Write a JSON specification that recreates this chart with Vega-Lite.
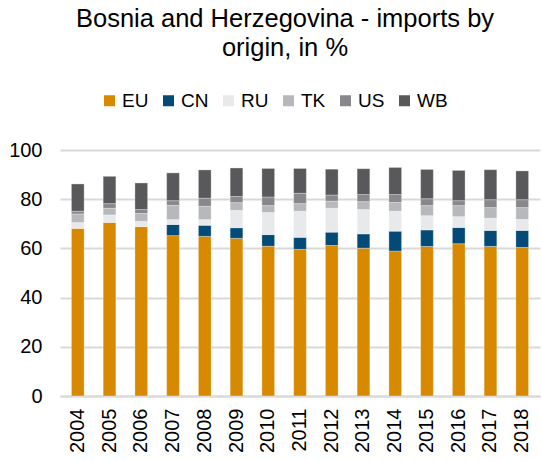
{
  "$schema": "https://vega.github.io/schema/vega-lite/v6.json",
  "autosize": {"type": "none"},
  "width": 480,
  "height": 246,
  "padding": {"left": 60, "top": 150, "right": 2, "bottom": 65},
  "background": "white",
  "config": {
    "font": "Liberation Sans",
    "view": {"stroke": null}
  },
  "title": {
    "text": ["Bosnia and Herzegovina - imports by", "origin, in %"],
    "fontSize": 25.5,
    "fontWeight": "normal",
    "color": "#000000",
    "anchor": "middle",
    "dx": -15,
    "offset": 30,
    "lineHeight": 29,
    "font": "Liberation Sans"
  },
  "data": {
    "values": [
      {"year": "2004", "origin": "EU", "value": 68.2}, {"year": "2004", "origin": "CN", "value": 0}, {"year": "2004", "origin": "RU", "value": 2.3}, {"year": "2004", "origin": "TK", "value": 3.5}, {"year": "2004", "origin": "US", "value": 1.1}, {"year": "2004", "origin": "WB", "value": 11.1},
      {"year": "2005", "origin": "EU", "value": 70.6}, {"year": "2005", "origin": "CN", "value": 0}, {"year": "2005", "origin": "RU", "value": 3.0}, {"year": "2005", "origin": "TK", "value": 2.7}, {"year": "2005", "origin": "US", "value": 1.9}, {"year": "2005", "origin": "WB", "value": 11.1},
      {"year": "2006", "origin": "EU", "value": 68.9}, {"year": "2006", "origin": "CN", "value": 0}, {"year": "2006", "origin": "RU", "value": 2.1}, {"year": "2006", "origin": "TK", "value": 3.2}, {"year": "2006", "origin": "US", "value": 1.6}, {"year": "2006", "origin": "WB", "value": 10.8},
      {"year": "2007", "origin": "EU", "value": 65.2}, {"year": "2007", "origin": "CN", "value": 4.5}, {"year": "2007", "origin": "RU", "value": 2.0}, {"year": "2007", "origin": "TK", "value": 5.8}, {"year": "2007", "origin": "US", "value": 1.9}, {"year": "2007", "origin": "WB", "value": 11.3},
      {"year": "2008", "origin": "EU", "value": 64.9}, {"year": "2008", "origin": "CN", "value": 4.5}, {"year": "2008", "origin": "RU", "value": 2.3}, {"year": "2008", "origin": "TK", "value": 5.4}, {"year": "2008", "origin": "US", "value": 3.3}, {"year": "2008", "origin": "WB", "value": 11.5},
      {"year": "2009", "origin": "EU", "value": 64.1}, {"year": "2009", "origin": "CN", "value": 4.3}, {"year": "2009", "origin": "RU", "value": 7.1}, {"year": "2009", "origin": "TK", "value": 3.1}, {"year": "2009", "origin": "US", "value": 2.5}, {"year": "2009", "origin": "WB", "value": 11.6},
      {"year": "2010", "origin": "EU", "value": 60.9}, {"year": "2010", "origin": "CN", "value": 4.7}, {"year": "2010", "origin": "RU", "value": 9.0}, {"year": "2010", "origin": "TK", "value": 2.8}, {"year": "2010", "origin": "US", "value": 3.5}, {"year": "2010", "origin": "WB", "value": 11.6},
      {"year": "2011", "origin": "EU", "value": 59.6}, {"year": "2011", "origin": "CN", "value": 4.9}, {"year": "2011", "origin": "RU", "value": 10.6}, {"year": "2011", "origin": "TK", "value": 3.1}, {"year": "2011", "origin": "US", "value": 4.2}, {"year": "2011", "origin": "WB", "value": 10.1},
      {"year": "2012", "origin": "EU", "value": 61.2}, {"year": "2012", "origin": "CN", "value": 5.4}, {"year": "2012", "origin": "RU", "value": 9.7}, {"year": "2012", "origin": "TK", "value": 2.9}, {"year": "2012", "origin": "US", "value": 2.5}, {"year": "2012", "origin": "WB", "value": 10.5},
      {"year": "2013", "origin": "EU", "value": 60.1}, {"year": "2013", "origin": "CN", "value": 5.8}, {"year": "2013", "origin": "RU", "value": 9.9}, {"year": "2013", "origin": "TK", "value": 3.2}, {"year": "2013", "origin": "US", "value": 2.9}, {"year": "2013", "origin": "WB", "value": 10.5},
      {"year": "2014", "origin": "EU", "value": 58.9}, {"year": "2014", "origin": "CN", "value": 8.1}, {"year": "2014", "origin": "RU", "value": 8.1}, {"year": "2014", "origin": "TK", "value": 3.6}, {"year": "2014", "origin": "US", "value": 3.2}, {"year": "2014", "origin": "WB", "value": 11.0},
      {"year": "2015", "origin": "EU", "value": 60.8}, {"year": "2015", "origin": "CN", "value": 6.7}, {"year": "2015", "origin": "RU", "value": 5.8}, {"year": "2015", "origin": "TK", "value": 4.1}, {"year": "2015", "origin": "US", "value": 2.8}, {"year": "2015", "origin": "WB", "value": 11.9},
      {"year": "2016", "origin": "EU", "value": 61.9}, {"year": "2016", "origin": "CN", "value": 6.6}, {"year": "2016", "origin": "RU", "value": 4.4}, {"year": "2016", "origin": "TK", "value": 4.5}, {"year": "2016", "origin": "US", "value": 2.0}, {"year": "2016", "origin": "WB", "value": 12.3},
      {"year": "2017", "origin": "EU", "value": 60.8}, {"year": "2017", "origin": "CN", "value": 6.5}, {"year": "2017", "origin": "RU", "value": 5.0}, {"year": "2017", "origin": "TK", "value": 4.3}, {"year": "2017", "origin": "US", "value": 3.2}, {"year": "2017", "origin": "WB", "value": 12.2},
      {"year": "2018", "origin": "EU", "value": 60.4}, {"year": "2018", "origin": "CN", "value": 6.9}, {"year": "2018", "origin": "RU", "value": 4.5}, {"year": "2018", "origin": "TK", "value": 4.8}, {"year": "2018", "origin": "US", "value": 3.2}, {"year": "2018", "origin": "WB", "value": 11.7}
    ]
  },
  "transform": [
    {"calculate": "indexof(['EU','CN','RU','TK','US','WB'], datum.origin)", "as": "stackOrder"}
  ],
  "mark": {"type": "bar", "stroke": "white", "strokeWidth": 0.5, "strokeOpacity": 0.6},
  "encoding": {
    "x": {
      "field": "year",
      "type": "ordinal",
      "title": null,
      "scale": {"paddingInner": 0.6, "paddingOuter": 0.36},
      "axis": {
        "labelAngle": 270,
        "labelFontSize": 20,
        "labelColor": "#000000",
        "labelPadding": 12,
        "ticks": false,
        "domainColor": "#D9D9D9",
        "domainWidth": 2,
        "labelFont": "Liberation Sans"
      }
    },
    "y": {
      "field": "value",
      "type": "quantitative",
      "stack": "zero",
      "title": null,
      "scale": {"domain": [0, 100], "nice": false},
      "axis": {
        "values": [0, 20, 40, 60, 80, 100],
        "labelFontSize": 20,
        "labelColor": "#000000",
        "labelPadding": 18,
        "ticks": false,
        "domain": false,
        "gridColor": "#D9D9D9",
        "gridWidth": 2,
        "labelFont": "Liberation Sans"
      }
    },
    "order": {"field": "stackOrder", "type": "quantitative", "sort": "ascending"},
    "color": {
      "field": "origin",
      "type": "nominal",
      "scale": {
        "domain": ["EU", "CN", "RU", "TK", "US", "WB"],
        "range": ["#D78A00", "#034B76", "#E8E9EA", "#B7B8BB", "#88878B", "#59595B"]
      },
      "legend": {
        "title": null,
        "orient": "none",
        "direction": "horizontal",
        "legendX": 40,
        "legendY": -59,
        "symbolType": "square",
        "symbolSize": 121,
        "symbolStrokeWidth": 0,
        "labelFontSize": 19,
        "labelColor": "#000000",
        "labelFont": "Liberation Sans",
        "labelOffset": 3,
        "columnPadding": 10
      }
    }
  }
}
